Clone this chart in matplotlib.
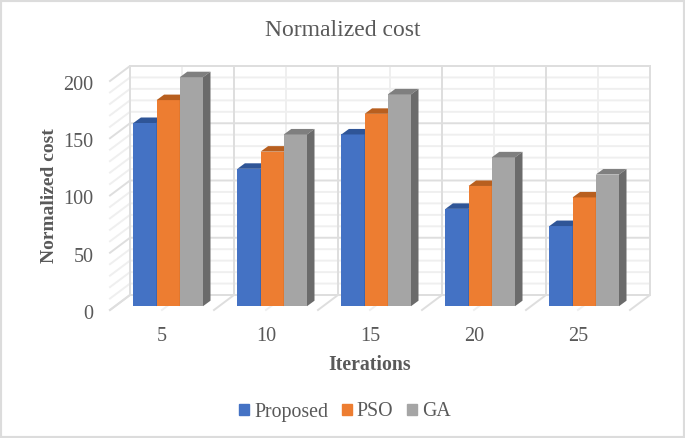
import matplotlib
matplotlib.use('Agg')
from matplotlib import pyplot as plt
from matplotlib.patches import Polygon, Rectangle
from matplotlib.transforms import ScaledTranslation
import numpy as np

plt.rcParams['font.family'] = ['Liberation Serif', 'DejaVu Serif']

iterations = ['5', '10', '15', '20', '25']
proposed = [160, 120, 150, 85, 70]
pso = [180, 135, 168, 105, 95]
ga = [200, 150, 185, 130, 115]

series = [('Proposed', proposed, '#4472c4', '#2f5597', '#2f5597'),
          ('PSO', pso, '#ed7d31', '#b85f1f', '#b85f1f'),
          ('GA', ga, '#a5a5a5', '#7f7f7f', '#6b6b6b')]

W, H = 685, 438
grey = '#595959'
major = '#dedede'
minor = '#efefef'

# front plane of the fake 3d box, in pixels
left, right, top, bottom = 110, 630, 81, 310
px_x = (right - left) / len(iterations)
px_y = (bottom - top) / 200
depth_x, depth_y = 20 / px_x, 15 / px_y

f = plt.figure(figsize=(W / 100, H / 100), dpi=100)
ax = f.add_axes([left / W, 1 - bottom / H, (right - left) / W, (bottom - top) / H])
ax.set_xlim(-0.5, len(iterations) - 0.5)
ax.set_ylim(0, 200)
ax.patch.set_alpha(0)
for s in ax.spines.values():
    s.set_visible(False)

# back wall and side wall lines
xs_major = np.arange(len(iterations) + 1) - 0.5
xs_minor = np.arange(len(iterations))
ys_major = np.arange(0, 201, 50)
ys_minor = np.arange(0, 201, 10)
for y in ys_minor:
    c, z = (major, 1.1) if y in ys_major else (minor, 1)
    ax.plot([-0.5, -0.5 + depth_x, len(iterations) - 0.5 + depth_x],
            [y, y + depth_y, y + depth_y], color=c, lw=1.4, zorder=z, clip_on=False)
for x in xs_minor:
    ax.plot([x, x + depth_x, x + depth_x], [0, depth_y, 200 + depth_y],
            color=minor, lw=1.4, zorder=1, clip_on=False)
for x in xs_major:
    ax.plot([x, x + depth_x, x + depth_x], [0, depth_y, 200 + depth_y],
            color=major, lw=1.4, zorder=1.1, clip_on=False)

# bars sit slightly behind the front plane
bar_w = 23.2 / px_x
off_x, off_y = 6.2 / px_x, 3.8 / px_y
side_x, side_y = 7.5 / px_x, 5.5 / px_y
handles = []
for j, (name, vals, col, top_col, side_col) in enumerate(series):
    pos = np.arange(len(vals)) + off_x + (j - 1) * bar_w
    b = ax.bar(pos, vals, bar_w, bottom=off_y, color=col, label=name, zorder=3 + j, clip_on=False)
    handles.append(Rectangle((0, 0), 1, 1, color=col))
    for x, v in zip(pos, vals):
        v2 = v + off_y
        x0, x1 = x - bar_w / 2, x + bar_w / 2
        ax.add_patch(Polygon([(x0, v2), (x1, v2), (x1 + side_x, v2 + side_y), (x0 + side_x, v2 + side_y)],
                             color=top_col, lw=0, zorder=3 + j, clip_on=False))
        ax.add_patch(Polygon([(x1, off_y), (x1 + side_x, off_y + side_y), (x1 + side_x, v2 + side_y), (x1, v2)],
                             color=side_col, lw=0, zorder=3 + j, clip_on=False))

ax.set_xticks(np.arange(len(iterations)))
ax.set_xticklabels(iterations)
ax.set_yticks(ys_major)
ax.tick_params(length=0, labelsize=14.5, labelcolor=grey)
ax.tick_params(axis='x', pad=12)
ax.tick_params(axis='y', pad=12)
shift = ScaledTranslation(0, -2 / 100, f.dpi_scale_trans)
for t in ax.yaxis.get_major_ticks():
    t.label1.set_transform(t.label1.get_transform() + shift)
ax.set_xlabel('Iterations', fontsize=14.2, fontweight='bold', color=grey, labelpad=7)
ax.set_ylabel('Normalized cost', fontsize=14, fontweight='bold', color=grey, va='center')
ax.yaxis.set_label_coords((50 - left) / (right - left), 0.5)

f.text(343 / W, 1 - 30 / H, 'Normalized cost', fontsize=17, color=grey, ha='center', va='center')
f.legend(handles, [s[0] for s in series], loc='center', bbox_to_anchor=(345 / W, 1 - 412 / H),
         ncol=3, frameon=False, fontsize=14.3, labelcolor=grey, handlelength=0.5, handleheight=0.5,
         handletextpad=0.25, columnspacing=0.7)

f.add_artist(Rectangle((0, 0), 1, 1, transform=f.transFigure, fill=False, ec='#dcdcdc', lw=3))

f.savefig('out.png', dpi=100)
